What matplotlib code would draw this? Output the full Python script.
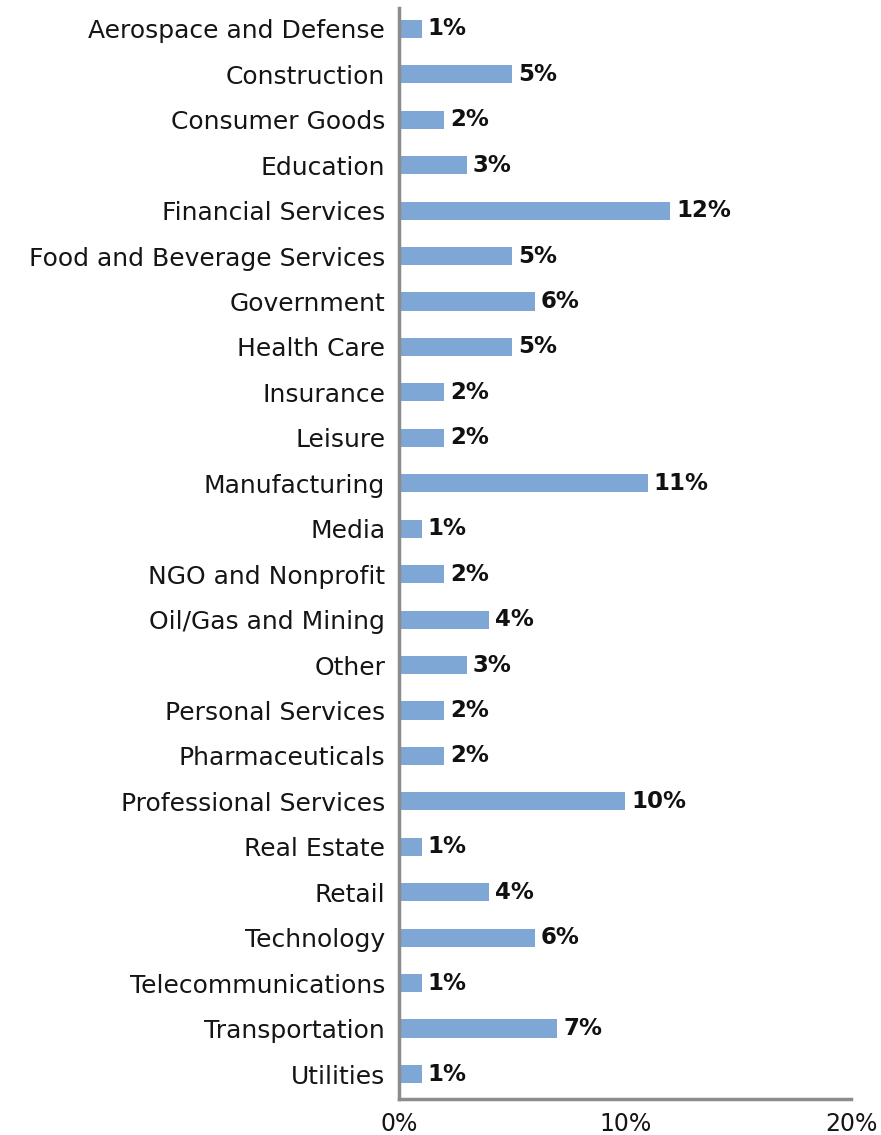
import matplotlib

matplotlib.use("Agg")
import matplotlib.pyplot as plt
from matplotlib.ticker import FuncFormatter

industries = [
    "Aerospace and Defense", "Construction", "Consumer Goods", "Education",
    "Financial Services", "Food and Beverage Services", "Government",
    "Health Care", "Insurance", "Leisure", "Manufacturing", "Media",
    "NGO and Nonprofit", "Oil/Gas and Mining", "Other", "Personal Services",
    "Pharmaceuticals", "Professional Services", "Real Estate", "Retail",
    "Technology", "Telecommunications", "Transportation", "Utilities",
]
shares = [1, 5, 2, 3, 12, 5, 6, 5, 2, 2, 11, 1, 2, 4, 3, 2, 2, 10, 1, 4, 6, 1, 7, 1]
x_ticks = [0, 10, 20]

plt.rcParams["font.family"] = ["DejaVu Sans"]

fig = plt.figure(figsize=(8.81, 11.35), dpi=100)
ax = fig.add_axes([0.453, 0.0317, 0.513, 0.9613])

pos = list(range(len(industries)))
ax.barh(pos, shares, height=0.4, color="#7fa7d6")
for p, v in zip(pos, shares):
    ax.text(v + 0.26, p, f"{v}%", va="center", ha="left",
            fontsize=16.5, fontweight="bold", color="#111111")

ax.set_ylim(len(industries) - 0.45, -0.46)
ax.set_xlim(0, 20)
ax.set_yticks(pos)
ax.set_yticklabels(industries, fontsize=18, color="#151515")
ax.set_xticks(x_ticks)
ax.xaxis.set_major_formatter(FuncFormatter(lambda v, _: f"{v:.0f}%"))
ax.tick_params(axis="x", length=0, labelsize=17, pad=9, colors="#151515")
ax.tick_params(axis="y", length=0, pad=10)

for side in ("top", "right"):
    ax.spines[side].set_visible(False)
for side in ("left", "bottom"):
    ax.spines[side].set_color("#8c8c8c")
    ax.spines[side].set_linewidth(2.5)

fig.savefig("out.png", dpi=100)
